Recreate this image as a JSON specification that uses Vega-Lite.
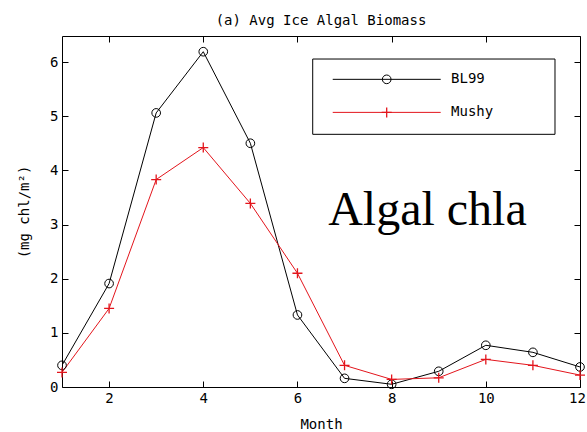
{
  "$schema": "https://vega.github.io/schema/vega-lite/v6.json",
  "autosize": "none",
  "width": 518,
  "height": 351,
  "padding": {"left": 62, "top": 36, "right": 7, "bottom": 45},
  "background": "white",
  "config": {
    "view": {"stroke": "black", "strokeWidth": 1},
    "axis": {"grid": false, "domain": false, "ticks": true, "tickColor": "black", "tickWidth": 1, "labelColor": "black", "titleColor": "black", "labelFont": "DejaVu Sans Mono", "titleFont": "DejaVu Sans Mono", "labelFontSize": 14, "titleFontSize": 14, "titleFontWeight": "normal"}
  },
  "title": {"text": "(a) Avg Ice Algal Biomass", "font": "DejaVu Sans Mono", "fontSize": 14, "fontWeight": "normal", "color": "black", "anchor": "middle", "offset": 8},
  "datasets": {
    "biomass": [
      {"month": 1, "value": 0.40, "series": "BL99"},
      {"month": 2, "value": 1.91, "series": "BL99"},
      {"month": 3, "value": 5.06, "series": "BL99"},
      {"month": 4, "value": 6.19, "series": "BL99"},
      {"month": 5, "value": 4.50, "series": "BL99"},
      {"month": 6, "value": 1.33, "series": "BL99"},
      {"month": 7, "value": 0.16, "series": "BL99"},
      {"month": 8, "value": 0.05, "series": "BL99"},
      {"month": 9, "value": 0.29, "series": "BL99"},
      {"month": 10, "value": 0.77, "series": "BL99"},
      {"month": 11, "value": 0.64, "series": "BL99"},
      {"month": 12, "value": 0.37, "series": "BL99"},
      {"month": 1, "value": 0.27, "series": "Mushy"},
      {"month": 2, "value": 1.45, "series": "Mushy"},
      {"month": 3, "value": 3.83, "series": "Mushy"},
      {"month": 4, "value": 4.42, "series": "Mushy"},
      {"month": 5, "value": 3.39, "series": "Mushy"},
      {"month": 6, "value": 2.10, "series": "Mushy"},
      {"month": 7, "value": 0.40, "series": "Mushy"},
      {"month": 8, "value": 0.14, "series": "Mushy"},
      {"month": 9, "value": 0.17, "series": "Mushy"},
      {"month": 10, "value": 0.51, "series": "Mushy"},
      {"month": 11, "value": 0.40, "series": "Mushy"},
      {"month": 12, "value": 0.22, "series": "Mushy"}
    ],
    "single": [{}]
  },
  "resolve": {"axis": {"x": "independent", "y": "independent"}},
  "layer": [
    {
      "data": {"name": "biomass"},
      "mark": {"type": "line", "strokeWidth": 1, "clip": true},
      "encoding": {
        "x": {"field": "month", "type": "quantitative", "scale": {"domain": [1, 12], "nice": false, "zero": false},
              "axis": {"orient": "bottom", "values": [2, 4, 6, 8, 10, 12], "title": "Month", "tickSize": 6, "offset": -6, "labelPadding": 4, "titlePadding": 12, "labelFlush": false,
                       "labelOffset": {"condition": {"test": "datum.value === 12", "value": -3}, "value": 0}}},
        "y": {"field": "value", "type": "quantitative", "scale": {"domain": [0, 6.48], "nice": false},
              "axis": {"orient": "left", "values": [0, 1, 2, 3, 4, 5, 6], "title": "(mg chl/m²)", "tickSize": 6, "offset": -6, "labelPadding": 4, "titlePadding": 18}},
        "color": {"field": "series", "type": "nominal", "scale": {"domain": ["BL99", "Mushy"], "range": ["#000000", "#e3151c"]}, "legend": null}
      }
    },
    {
      "data": {"name": "biomass"},
      "transform": [{"filter": "datum.series === 'BL99'"}],
      "mark": {"type": "point", "shape": "circle", "filled": false, "size": 75, "stroke": "black", "strokeWidth": 1, "opacity": 1},
      "encoding": {
        "x": {"field": "month", "type": "quantitative", "axis": {"orient": "top", "values": [2, 4, 6, 8, 10, 12], "labels": false, "title": null, "tickSize": 6, "offset": -6}},
        "y": {"field": "value", "type": "quantitative", "axis": {"orient": "right", "values": [0, 1, 2, 3, 4, 5, 6], "labels": false, "title": null, "tickSize": 6, "offset": -6}}
      }
    },
    {
      "data": {"name": "biomass"},
      "transform": [{"filter": "datum.series === 'Mushy'"}],
      "mark": {"type": "point", "shape": "M-1,0L1,0M0,-1L0,1", "filled": false, "size": 100, "stroke": "#e3151c", "strokeWidth": 1.3, "opacity": 1},
      "encoding": {
        "x": {"field": "month", "type": "quantitative", "axis": null},
        "y": {"field": "value", "type": "quantitative", "axis": null}
      }
    },
    {
      "data": {"name": "single"},
      "mark": {"type": "rect", "fill": "white", "stroke": "black", "strokeWidth": 1},
      "encoding": {
        "x": {"datum": 6.324, "type": "quantitative", "axis": null},
        "x2": {"datum": 11.469},
        "y": {"datum": 6.055, "type": "quantitative", "axis": null},
        "y2": {"datum": 4.665}
      }
    },
    {
      "data": {"name": "single"},
      "mark": {"type": "rule", "stroke": "black", "strokeWidth": 1},
      "encoding": {
        "x": {"datum": 6.749, "type": "quantitative", "axis": null},
        "x2": {"datum": 9.042},
        "y": {"datum": 5.68, "type": "quantitative", "axis": null}
      }
    },
    {
      "data": {"name": "single"},
      "mark": {"type": "rule", "stroke": "#e3151c", "strokeWidth": 1},
      "encoding": {
        "x": {"datum": 6.749, "type": "quantitative", "axis": null},
        "x2": {"datum": 9.042},
        "y": {"datum": 5.07, "type": "quantitative", "axis": null}
      }
    },
    {
      "data": {"name": "single"},
      "mark": {"type": "point", "shape": "circle", "filled": false, "size": 75, "stroke": "black", "strokeWidth": 1, "opacity": 1},
      "encoding": {
        "x": {"datum": 7.895, "type": "quantitative", "axis": null},
        "y": {"datum": 5.68, "type": "quantitative", "axis": null}
      }
    },
    {
      "data": {"name": "single"},
      "mark": {"type": "point", "shape": "M-1,0L1,0M0,-1L0,1", "filled": false, "size": 100, "stroke": "#e3151c", "strokeWidth": 1.3, "opacity": 1},
      "encoding": {
        "x": {"datum": 7.895, "type": "quantitative", "axis": null},
        "y": {"datum": 5.07, "type": "quantitative", "axis": null}
      }
    },
    {
      "data": {"name": "single"},
      "mark": {"type": "text", "align": "left", "baseline": "middle", "font": "DejaVu Sans Mono", "fontSize": 14, "color": "black"},
      "encoding": {
        "x": {"datum": 9.261, "type": "quantitative", "axis": null},
        "y": {"datum": 5.68, "type": "quantitative", "axis": null},
        "text": {"value": "BL99"}
      }
    },
    {
      "data": {"name": "single"},
      "mark": {"type": "text", "align": "left", "baseline": "middle", "font": "DejaVu Sans Mono", "fontSize": 14, "color": "black"},
      "encoding": {
        "x": {"datum": 9.261, "type": "quantitative", "axis": null},
        "y": {"datum": 5.07, "type": "quantitative", "axis": null},
        "text": {"value": "Mushy"}
      }
    },
    {
      "data": {"name": "single"},
      "mark": {"type": "text", "align": "center", "baseline": "alphabetic", "font": "Liberation Serif", "fontSize": 48, "color": "black"},
      "encoding": {
        "x": {"datum": 8.76, "type": "quantitative", "axis": null},
        "y": {"datum": 2.99, "type": "quantitative", "axis": null},
        "text": {"value": "Algal chla"}
      }
    }
  ]
}
